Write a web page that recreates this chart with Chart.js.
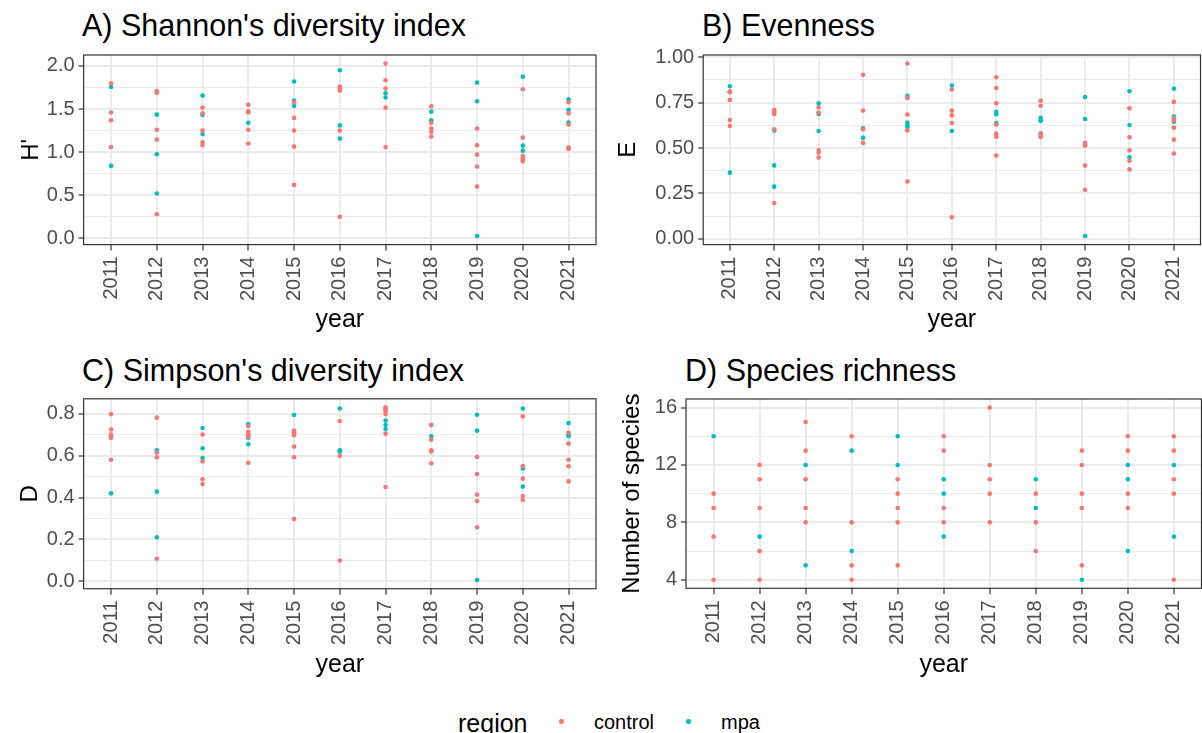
<!DOCTYPE html>
<html>
<head>
<meta charset="utf-8">
<script src="https://cdn.jsdelivr.net/npm/chart.js@4/dist/chart.umd.min.js"></script>
<style>
  body { margin:0; width:1202px; height:733px; overflow:hidden; position:relative; background:#fff;
         font-family:"Liberation Sans", Arial, sans-serif; color:#000; }
  canvas { position:absolute; }
  .ptitle { position:absolute; font-size:30.5px; line-height:30px; white-space:nowrap; }
  .leg { position:absolute; white-space:nowrap; }
  .dot { position:absolute; width:4.6px; height:4.6px; border-radius:50%; }
</style>
</head>
<body>
<div class="ptitle" style="left:82px; top:10px">A) Shannon's diversity index</div>
<div class="ptitle" style="left:702px; top:10px">B) Evenness</div>
<div class="ptitle" style="left:82px; top:355px">C) Simpson's diversity index</div>
<div class="ptitle" style="left:685px; top:355px">D) Species richness</div>

<canvas id="chartA" width="601" height="345" style="left:0; top:0"></canvas>
<canvas id="chartB" width="603" height="345" style="left:601px; top:0"></canvas>
<canvas id="chartC" width="601" height="345" style="left:0; top:345px"></canvas>
<canvas id="chartD" width="603" height="345" style="left:601px; top:345px"></canvas>

<div class="leg" style="left:458px; top:711px; font-size:25px; line-height:25px">region</div>
<div class="dot" style="left:559.4px; top:719.4px; background:#F8766D"></div>
<div class="leg" style="left:594px; top:712px; font-size:20px; line-height:20px">control</div>
<div class="dot" style="left:686.4px; top:719.4px; background:#00BFC4"></div>
<div class="leg" style="left:721px; top:712px; font-size:20px; line-height:20px">mpa</div>

<script>
// years on the x axis
var years = [2011, 2012, 2013, 2014, 2015, 2016, 2017, 2018, 2019, 2020, 2021];

// A) Shannon's diversity index, one list per year
var shannonControl = [
  [1.80, 1.46, 1.37, 1.06],
  [1.71, 1.69, 1.26, 1.145, 0.28],
  [1.516, 1.45, 1.25, 1.114, 1.08],
  [1.55, 1.474, 1.46, 1.26, 1.10],
  [1.578, 1.397, 1.25, 1.064, 0.62],
  [1.76, 1.737, 1.714, 1.25, 0.25],
  [2.027, 1.834, 1.737, 1.516, 1.06],
  [1.532, 1.34, 1.273, 1.234, 1.18],
  [1.273, 1.08, 0.971, 0.832, 0.60],
  [1.73, 1.168, 0.955, 0.93, 0.909, 0.894],
  [1.578, 1.45, 1.32, 1.052, 1.037]
];
var shannonMpa = [
  [1.756, 0.84],
  [1.435, 0.975, 0.52],
  [1.656, 1.43, 1.21],
  [1.34],
  [1.82, 1.598, 1.536],
  [1.95, 1.31, 1.157],
  [1.683, 1.633],
  [1.47, 1.37],
  [1.807, 1.59, 0.027],
  [1.876, 1.075, 1.017],
  [1.613, 1.49, 1.342]
];

// B) Evenness
var evenControl = [
  [0.8125, 0.807, 0.765, 0.654, 0.621],
  [0.71, 0.699, 0.6875, 0.603, 0.197],
  [0.724, 0.695, 0.489, 0.474, 0.447],
  [0.904, 0.706, 0.603, 0.528],
  [0.965, 0.776, 0.684, 0.597, 0.316],
  [0.822, 0.706, 0.68, 0.638, 0.118],
  [0.89, 0.831, 0.746, 0.629, 0.579, 0.5625, 0.458],
  [0.761, 0.733, 0.581, 0.57, 0.561],
  [0.528, 0.518, 0.513, 0.403, 0.27],
  [0.719, 0.559, 0.487, 0.43, 0.382],
  [0.754, 0.664, 0.654, 0.612, 0.546, 0.469]
];
var evenMpa = [
  [0.84, 0.364],
  [0.597, 0.404, 0.287],
  [0.746, 0.6875, 0.594],
  [0.608, 0.557],
  [0.787, 0.64, 0.627, 0.616],
  [0.844, 0.594],
  [0.699, 0.686, 0.637],
  [0.667, 0.654, 0.649],
  [0.781, 0.66, 0.015],
  [0.8125, 0.627, 0.449],
  [0.827, 0.673, 0.645]
];

// C) Simpson's diversity index
var simpsonControl = [
  [0.798, 0.725, 0.70, 0.692, 0.684, 0.58],
  [0.781, 0.615, 0.592, 0.108],
  [0.701, 0.573, 0.487, 0.464],
  [0.741, 0.713, 0.703, 0.697, 0.69, 0.566],
  [0.72, 0.709, 0.697, 0.643, 0.592, 0.297],
  [0.765, 0.598, 0.099],
  [0.83, 0.821, 0.81, 0.798, 0.705, 0.45],
  [0.746, 0.676, 0.625, 0.619, 0.563],
  [0.593, 0.512, 0.414, 0.383, 0.258],
  [0.787, 0.55, 0.49, 0.407, 0.388],
  [0.709, 0.657, 0.58, 0.549, 0.477]
];
var simpsonMpa = [
  [0.42],
  [0.625, 0.428, 0.21],
  [0.732, 0.635, 0.588],
  [0.751, 0.685, 0.654],
  [0.794, 0.709],
  [0.825, 0.625, 0.619],
  [0.767, 0.746, 0.727],
  [0.692],
  [0.795, 0.719, 0.006],
  [0.825, 0.538, 0.452],
  [0.755, 0.698, 0.692]
];

// D) Species richness
var richControl = [
  [10, 9, 7, 4],
  [12, 11, 9, 6, 4],
  [15, 13, 11, 9, 8],
  [14, 8, 5, 4],
  [11, 10, 9, 8, 5],
  [14, 13, 9, 8],
  [16, 12, 11, 10, 8],
  [10, 8, 6],
  [13, 12, 10, 9, 5],
  [14, 13, 10, 9],
  [14, 13, 11, 10, 4]
];
var richMpa = [
  [14],
  [7],
  [12, 5],
  [13, 6],
  [14, 12],
  [11, 10, 7],
  [],
  [11, 9],
  [4],
  [12, 11, 6],
  [12, 7]
];

// y tick breaks
var shannonBreaks = [0, 0.5, 1.0, 1.5, 2.0];
var shannonMinor = [0.25, 0.75, 1.25, 1.75];
var evenBreaks = [0, 0.25, 0.5, 0.75, 1.0];
var evenMinor = [0.125, 0.375, 0.625, 0.875];
var simpsonBreaks = [0, 0.2, 0.4, 0.6, 0.8];
var simpsonMinor = [0.1, 0.3, 0.5, 0.7];
var richBreaks = [4, 8, 12, 16];
var richMinor = [6, 10, 14];

var RED = '#F8766D', TEAL = '#00BFC4';
var FONT = '"Liberation Sans", Arial, sans-serif';

function toPoints(lists) {
  return lists.flatMap(function(vals, i) {
    return vals.map(function(v) { return {x: years[i], y: v}; });
  });
}

var panelBorder = {
  id: 'panelBorder',
  afterDraw: function(chart) {
    var a = chart.chartArea, ctx = chart.ctx;
    ctx.save();
    ctx.strokeStyle = '#333333';
    ctx.lineWidth = 1.2;
    ctx.strokeRect(a.left, a.top, a.right - a.left, a.bottom - a.top);
    ctx.restore();
  }
};

function makePanel(id, p) {
  var isMajor = function(v) {
    return p.breaks.some(function(m) { return Math.abs(m - v) < 1e-9; });
  };
  var yTicks = p.breaks.concat(p.minor).sort(function(a, b) { return a - b; });
  return new Chart(document.getElementById(id), {
    type: 'scatter',
    data: {
      datasets: [
        {label: 'control', data: toPoints(p.control), backgroundColor: RED,
         pointRadius: 2.3, pointBorderWidth: 0, pointHoverRadius: 2.3},
        {label: 'mpa', data: toPoints(p.mpa), backgroundColor: TEAL,
         pointRadius: 2.3, pointBorderWidth: 0, pointHoverRadius: 2.3}
      ]
    },
    options: {
      responsive: false,
      animation: false,
      layout: {padding: {top: p.padTop, right: p.padRight, left: 0, bottom: 0}},
      plugins: {legend: {display: false}, tooltip: {enabled: false}},
      scales: {
        x: {
          type: 'linear', min: 2010.4, max: 2021.6,
          afterBuildTicks: function(s) { s.ticks = years.map(function(v) { return {value: v}; }); },
          afterFit: function(s) { s.height = 345 - p.bottom; },
          border: {display: false},
          grid: {color: '#EBEBEB', lineWidth: 2, tickColor: '#333333', tickWidth: 1.2, tickLength: 6},
          ticks: {callback: function(v) { return String(v); }, autoSkip: false,
                  minRotation: 90, maxRotation: 90, padding: 6,
                  color: '#4D4D4D', font: {family: FONT, size: 20}},
          title: {display: true, text: 'year', color: '#000',
                  font: {family: FONT, size: 25, lineHeight: 1}, padding: {top: 0, bottom: 12}}
        },
        y: {
          type: 'linear', min: p.min, max: p.max,
          afterBuildTicks: function(s) { s.ticks = yTicks.map(function(v) { return {value: v}; }); },
          afterFit: function(s) { s.width = p.yWidth; },
          border: {display: false},
          grid: {
            color: '#EBEBEB',
            lineWidth: function(c) { return c.tick && isMajor(c.tick.value) ? 2 : 1; },
            tickColor: function(c) { return c.tick && isMajor(c.tick.value) ? '#333333' : 'rgba(0,0,0,0)'; },
            tickWidth: 1.2, tickLength: 5
          },
          ticks: {callback: function(v) { return isMajor(v) ? p.fmt(v) : ''; }, autoSkip: false,
                  padding: 4, color: '#4D4D4D', font: {family: FONT, size: 20}},
          title: {display: true, text: p.yTitle, color: '#000',
                  font: {family: FONT, size: 24, lineHeight: 1}, padding: {top: p.yTitlePad, bottom: 0}}
        }
      }
    },
    plugins: [panelBorder]
  });
}

makePanel('chartA', {control: shannonControl, mpa: shannonMpa, breaks: shannonBreaks, minor: shannonMinor,
  min: -0.073, max: 2.127, fmt: function(v) { return v.toFixed(1); }, yTitle: "H'",
  padTop: 55, padRight: 5, bottom: 244.6, yWidth: 83.6, yTitlePad: 19});
makePanel('chartB', {control: evenControl, mpa: evenMpa, breaks: evenBreaks, minor: evenMinor,
  min: -0.0325, max: 1.0125, fmt: function(v) { return v.toFixed(2); }, yTitle: 'E',
  padTop: 55, padRight: 0, bottom: 244.6, yWidth: 102.2, yTitlePad: 15});
makePanel('chartC', {control: simpsonControl, mpa: simpsonMpa, breaks: simpsonBreaks, minor: simpsonMinor,
  min: -0.035, max: 0.871, fmt: function(v) { return v.toFixed(1); }, yTitle: 'D',
  padTop: 53.8, padRight: 5, bottom: 243.7, yWidth: 83.6, yTitlePad: 18});
makePanel('chartD', {control: richControl, mpa: richMpa, breaks: richBreaks, minor: richMinor,
  min: 3.4, max: 16.6, fmt: function(v) { return String(v); }, yTitle: 'Number of species',
  padTop: 54, padRight: 0, bottom: 243.3, yWidth: 85, yTitlePad: 19});
</script>
</body>
</html>
